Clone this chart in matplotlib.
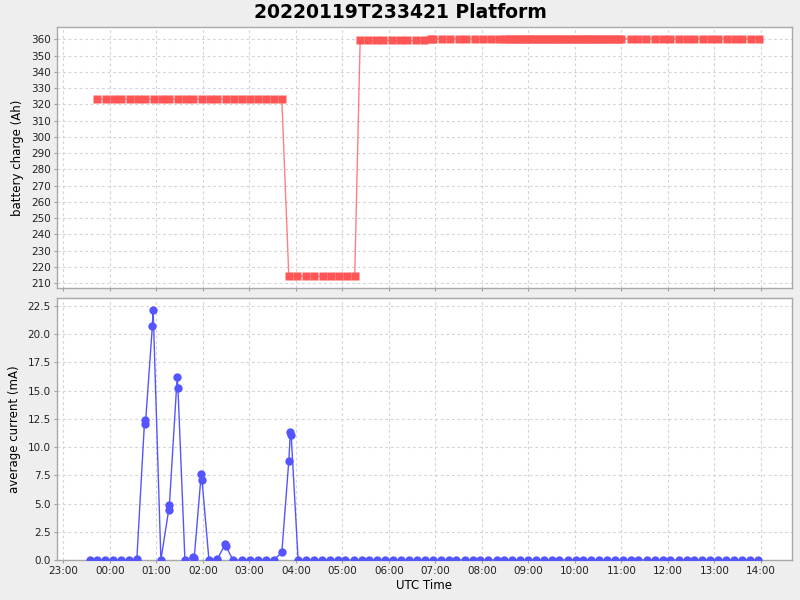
import matplotlib
matplotlib.use("Agg")
import matplotlib.pyplot as plt
import matplotlib.dates as mdates
from datetime import datetime

# ---------------- data ----------------
title = "20220119T233421 Platform"

charge_times = [
    "23:43", "23:55", "00:05", "00:15", "00:26", "00:36", "00:46", "00:57", "01:07", "01:17",
    "01:28", "01:38", "01:48", "01:59", "02:09", "02:19", "02:30", "02:40", "02:50", "03:01",
    "03:11", "03:21", "03:32", "03:42",
    "03:51", "04:02", "04:13", "04:24", "04:35", "04:45", "04:56", "05:06", "05:16",
    "05:23", "05:33", "05:43", "05:53", "06:04", "06:14", "06:24", "06:35", "06:45",
    "06:54", "06:57", "07:09", "07:19", "07:30", "07:40", "07:51", "08:01", "08:12", "08:22",
    "08:30", "08:35", "08:40", "08:45", "08:50", "08:55", "09:00", "09:05", "09:10", "09:15",
    "09:20", "09:25", "09:30", "09:35", "09:40", "09:45", "09:50", "09:55", "10:00", "10:05",
    "10:10", "10:15", "10:20", "10:25", "10:30", "10:35", "10:40", "10:45", "10:50", "10:55",
    "11:00",
    "11:12", "11:22", "11:32", "11:43", "11:53", "12:03", "12:14", "12:24", "12:34", "12:45",
    "12:55", "13:05", "13:16", "13:26", "13:36", "13:47", "13:58",
]
charge_values = (
    [323.1] * 24
    + [214.3] * 9
    + [359.3] * 9
    + [360.4] * 10
    + [360.4] * 31
    + [360.4] * 17
)

current_times = [
    "23:34", "23:43", "23:54", "00:04", "00:15", "00:25", "00:35", "00:45", "00:46", "00:55",
    "00:56", "01:06", "01:16", "01:17", "01:27", "01:28", "01:37", "01:48", "01:49", "01:58",
    "01:59", "02:08", "02:19", "02:29", "02:30", "02:39", "02:51", "03:01", "03:11", "03:21",
    "03:32", "03:42", "03:51", "03:53", "03:54",
    "04:03", "04:13", "04:23", "04:34", "04:44", "04:54", "05:04", "05:15", "05:25", "05:35",
    "05:45", "05:55", "06:06", "06:16", "06:26", "06:36", "06:47", "06:57", "07:07", "07:17",
    "07:27", "07:38", "07:48", "07:58", "08:08", "08:19", "08:29", "08:39", "08:49", "08:59",
    "09:10", "09:20", "09:30", "09:40", "09:51", "10:01", "10:11", "10:21", "10:31", "10:42",
    "10:52", "11:02", "11:12", "11:22", "11:33", "11:43", "11:53", "12:03", "12:14", "12:24",
    "12:34", "12:44", "12:54", "13:05", "13:15", "13:25", "13:35", "13:46", "13:56",
]
current_values = [
    0.0, 0.0, 0.0, 0.0, 0.0, 0.0, 0.1, 12.4, 12.0, 20.7,
    22.1, 0.0, 4.4, 4.9, 16.2, 15.2, 0.0, 0.3, 0.2, 7.6,
    7.1, 0.0, 0.1, 1.4, 1.2, 0.0, 0.0, 0.0, 0.0, 0.0,
    0.0, 0.7, 8.8, 11.3, 11.1,
] + [0.0] * 59

charge_ticks = list(range(210, 361, 10))
current_ticks = [0.0, 2.5, 5.0, 7.5, 10.0, 12.5, 15.0, 17.5, 20.0, 22.5]
x_start = "22:52"
x_end = "14:40"


def to_dt(s):
    h, m = map(int, s.split(":"))
    day = 19 if h >= 20 else 20
    return datetime(2022, 1, day, h, m)


ct = [to_dt(s) for s in charge_times]
it = [to_dt(s) for s in current_times]

# ---------------- figure ----------------
plt.rcParams["font.family"] = ["DejaVu Sans"]
fig = plt.figure(figsize=(8, 6), dpi=100, facecolor="#EEEEEE")

ax1 = fig.add_axes([57 / 800, 1 - 288 / 600, (792 - 57) / 800, 261 / 600])
ax2 = fig.add_axes([57 / 800, 1 - 560 / 600, (792 - 57) / 800, 262 / 600], sharex=ax1)

red = "#FF5555"
blue = "#5555FF"

ax1.plot(ct, charge_values, color=red, lw=1.0, alpha=0.75, zorder=2)
ax1.plot(ct, charge_values, ls="none", marker="s", ms=5.3, color=red,
         mec="none", zorder=3)

ax2.plot(it, current_values, color=blue, lw=1.0, zorder=2)
ax2.plot(it, current_values, ls="none", marker="o", ms=6.0, color=blue,
         mec="none", zorder=3)

for ax in (ax1, ax2):
    ax.set_facecolor("white")
    ax.grid(True, color="#D4D4D4", ls=(0, (2.5, 2.5)), lw=0.8)
    ax.set_axisbelow(True)
    for sp in ax.spines.values():
        sp.set_color("#A8A8A8")
        sp.set_linewidth(1.0)
    ax.tick_params(axis="both", length=2.5, width=0.8, color="#A0A0A0",
                   labelsize=7.5, labelcolor="#222222", pad=2)

ax1.set_ylim(207.1, 367.6)
ax1.set_yticks(charge_ticks)
ax1.set_ylabel("battery charge (Ah)", fontsize=8.5, labelpad=5)
ax1.tick_params(axis="x", labelbottom=False)

ax2.set_ylim(0, 23.2)
ax2.set_yticks(current_ticks)
ax2.set_yticklabels([f"{v:.1f}" for v in current_ticks])
ax2.set_ylabel("average current (mA)", fontsize=8.5, labelpad=5)
ax2.set_xlabel("UTC Time", fontsize=8.5, labelpad=2)

ax2.set_xlim(to_dt(x_start), to_dt(x_end))
ax2.xaxis.set_major_locator(mdates.HourLocator(interval=1))
ax2.xaxis.set_major_formatter(mdates.DateFormatter("%H:%M"))

fig.text(0.5, 1 - 12 / 600, title, ha="center", va="center",
         fontsize=13.5, fontweight="bold", color="black")

fig.savefig("out.png", dpi=100, facecolor=fig.get_facecolor())
